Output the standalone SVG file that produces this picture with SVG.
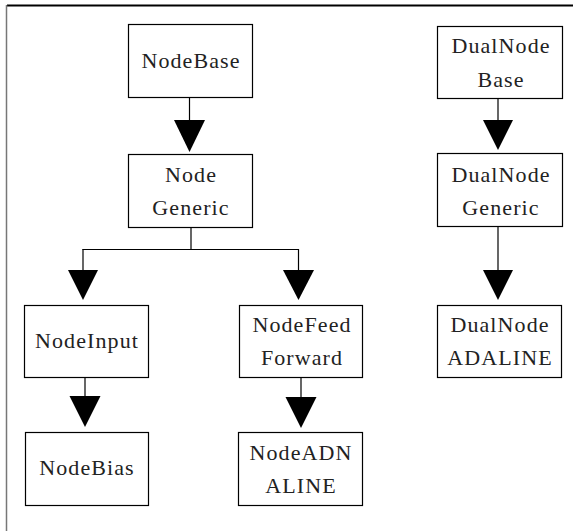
<svg xmlns="http://www.w3.org/2000/svg" width="573" height="531" viewBox="0 0 573 531">
<style>
.box{fill:#fff;stroke:#000;stroke-width:1.2}
.t{font-family:"Liberation Serif","DejaVu Serif",serif;font-size:22px;letter-spacing:1.1px;fill:#222;text-anchor:middle}
.ln{stroke:#000;stroke-width:1.2;fill:none}
.ah{fill:#000}
</style>
<rect width="573" height="531" fill="#fff"/>
<line x1="7" y1="5.5" x2="573" y2="5.5" stroke="#000" stroke-width="2"/>
<line x1="6.5" y1="5" x2="6.5" y2="531" stroke="#777" stroke-width="1.5"/>
<g id="connectors">
<line class="ln" x1="189.5" y1="97" x2="189.5" y2="121"/>
<polygon class="ah" points="174,120 205,120 189.5,152"/>
<polyline class="ln" points="191,228 191,249.5"/>
<line class="ln" x1="82.5" y1="249.5" x2="298.5" y2="249.5"/>
<line class="ln" x1="83" y1="249" x2="83" y2="271"/>
<polygon class="ah" points="68,270 98,270 83,300"/>
<line class="ln" x1="298.5" y1="249" x2="298.5" y2="271"/>
<polygon class="ah" points="283,270 314,270 298.5,300"/>
<line class="ln" x1="85" y1="377" x2="85" y2="397"/>
<polygon class="ah" points="69.5,396 100.5,396 85,427"/>
<line class="ln" x1="301" y1="377" x2="301" y2="398"/>
<polygon class="ah" points="285.5,397 316.5,397 301,428"/>
<line class="ln" x1="498" y1="98" x2="498" y2="121"/>
<polygon class="ah" points="483,120 513,120 498,150"/>
<line class="ln" x1="498" y1="227" x2="498" y2="271"/>
<polygon class="ah" points="483,270 513,270 498,300"/>
</g>
<g id="NodeBase"><rect class="box" x="128.5" y="24.5" width="124" height="73"/><text class="t" x="191" y="68">NodeBase</text></g>
<g id="NodeGeneric"><rect class="box" x="128.5" y="154.5" width="124" height="73"/><text class="t" x="191" y="182">Node</text><text class="t" x="191" y="215">Generic</text></g>
<g id="DualNodeBase"><rect class="box" x="437.5" y="26.5" width="125" height="72"/><text class="t" x="501" y="53">DualNode</text><text class="t" x="501" y="87">Base</text></g>
<g id="DualNodeGeneric"><rect class="box" x="437.5" y="153.5" width="125" height="73"/><text class="t" x="501" y="182">DualNode</text><text class="t" x="501" y="215">Generic</text></g>
<g id="NodeInput"><rect class="box" x="24.5" y="305.5" width="124" height="72"/><text class="t" x="87" y="348">NodeInput</text></g>
<g id="NodeBias"><rect class="box" x="25.5" y="432.5" width="123" height="73"/><text class="t" x="87" y="475">NodeBias</text></g>
<g id="NodeFeedForward"><rect class="box" x="239.5" y="305.5" width="123" height="72"/><text class="t" x="302" y="332">NodeFeed</text><text class="t" x="302" y="365">Forward</text></g>
<g id="NodeADNALINE"><rect class="box" x="238.5" y="432.5" width="124" height="73"/><text class="t" x="301" y="460">NodeADN</text><text class="t" x="301" y="493">ALINE</text></g>
<g id="DualNodeADALINE"><rect class="box" x="437.5" y="305.5" width="124" height="72"/><text class="t" x="500" y="332">DualNode</text><text class="t" x="500" y="365">ADALINE</text></g>
</svg>
